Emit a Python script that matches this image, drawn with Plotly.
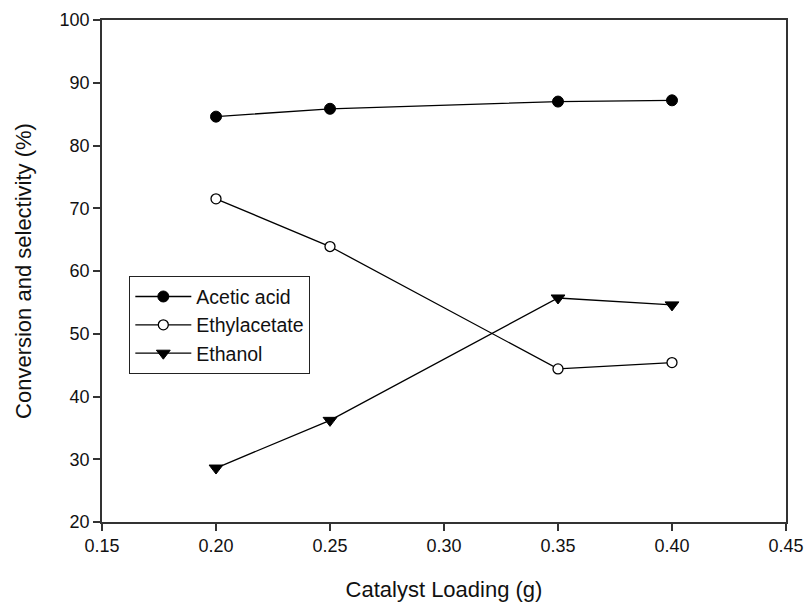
import plotly.graph_objects as go

catalyst_loading = [0.20, 0.25, 0.35, 0.40]
acetic_acid = [84.6, 85.85, 87.0, 87.2]
ethylacetate = [71.5, 63.9, 44.4, 45.4]
ethanol = [28.6, 36.2, 55.7, 54.6]

x_ticks = [0.15, 0.20, 0.25, 0.30, 0.35, 0.40, 0.45]
y_ticks = [20, 30, 40, 50, 60, 70, 80, 90, 100]

FONT = "Liberation Sans, Arial, sans-serif"

fig = go.Figure()
fig.add_trace(go.Scatter(
    x=catalyst_loading, y=acetic_acid, name="Acetic acid", mode="lines+markers",
    line=dict(color="black", width=1.3),
    marker=dict(symbol="circle", size=11, color="black", line=dict(color="black", width=1))))
fig.add_trace(go.Scatter(
    x=catalyst_loading, y=ethylacetate, name="Ethylacetate", mode="lines+markers",
    line=dict(color="black", width=1.3),
    marker=dict(symbol="circle", size=10, color="white", line=dict(color="black", width=1.3))))
fig.add_trace(go.Scatter(
    x=catalyst_loading, y=ethanol, name="Ethanol", mode="lines+markers",
    line=dict(color="black", width=1.3),
    marker=dict(symbol="triangle-down", size=12, color="black", line=dict(color="black", width=1))))

axis_common = dict(
    showgrid=False, zeroline=False, showline=True, linecolor="#333", linewidth=1.5,
    mirror=True, ticks="outside", ticklen=7, tickwidth=1.5, tickcolor="#333",
    tickfont=dict(family=FONT, size=18, color="#111"),
)

fig.update_xaxes(
    range=[0.15, 0.45], tickvals=x_ticks, tickformat=".2f",
    title=dict(text="Catalyst Loading (g)", font=dict(family=FONT, size=22, color="#111"), standoff=26),
    **axis_common)
fig.update_yaxes(
    range=[20, 100], tickvals=y_ticks,
    title=dict(text="Conversion and selectivity (%)", font=dict(family=FONT, size=22, color="#111"), standoff=22),
    **axis_common)

fig.update_layout(
    width=807, height=603,
    margin=dict(l=102, r=21, t=20, b=81, autoexpand=False),
    paper_bgcolor="white", plot_bgcolor="white",
    font=dict(family=FONT, color="#111"),
    showlegend=True,
    legend=dict(
        x=0.0395, y=0.49, xanchor="left", yanchor="top",
        bordercolor="#222", borderwidth=1.3, bgcolor="white",
        font=dict(family=FONT, size=19.5, color="#111"),
        itemwidth=56, tracegroupgap=0,
    ),
)

fig.write_html("out.html")
